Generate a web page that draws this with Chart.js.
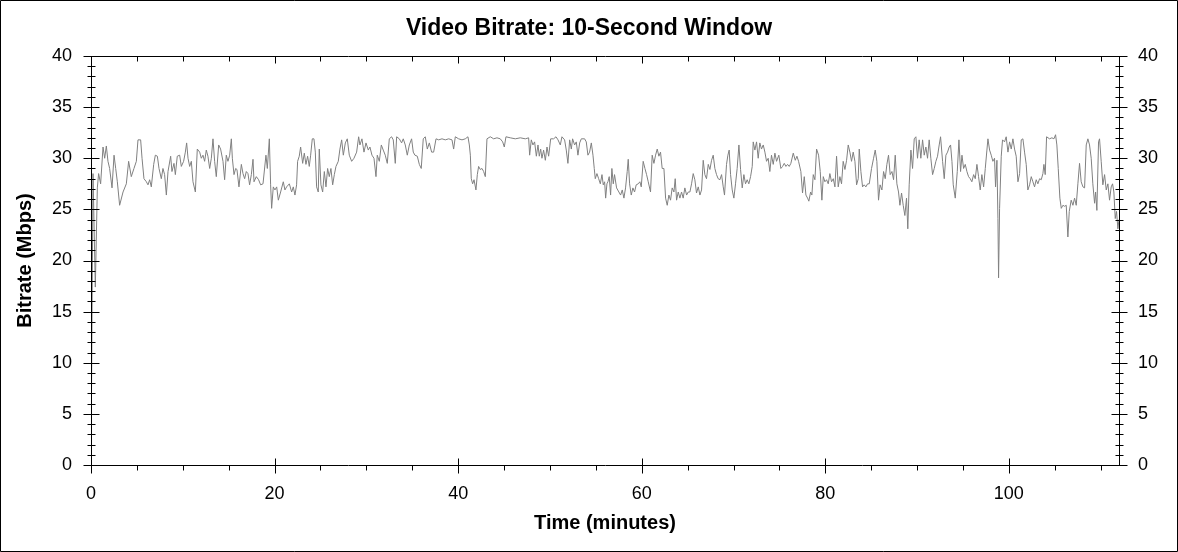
<!DOCTYPE html>
<html>
<head>
<meta charset="utf-8">
<title>Video Bitrate</title>
<script src="https://cdn.jsdelivr.net/npm/chart.js@4.4.1/dist/chart.umd.min.js"></script>
<style>
  body { margin: 0; background: #fff; }
  canvas { display: block; }
</style>
</head>
<body>
<canvas id="myChart" width="1178" height="552"></canvas>
<script>
// time in minutes, bitrate in Mbps
var minutes = [
  0, 0.22, 0.47, 0.69, 0.83, 1.05, 1.31, 1.49, 1.67, 1.85, 2.03, 2.29, 2.51, 2.69, 2.87, 3.12, 3.49, 3.85, 4.10, 4.39,
  4.68, 4.94, 5.12, 5.41, 5.56, 5.77, 6.03, 6.21, 6.39, 6.57, 6.83, 7.01, 7.23, 7.41, 7.66, 7.84, 8.02, 8.21, 8.39, 8.68,
  8.82, 9.04, 9.19, 9.40, 9.66, 9.84, 10.09, 10.28, 10.42, 10.57, 10.75, 10.93, 11.11, 11.37, 11.58, 11.84, 12.02, 12.20, 12.38, 12.56,
  12.74, 12.93, 13.11, 13.29, 13.47, 13.65, 13.91, 14.12, 14.38, 14.56, 14.74, 14.92, 15.11, 15.29, 15.40, 15.58, 15.76, 15.90, 16.12, 16.38,
  16.56, 16.74, 16.92, 17.10, 17.28, 17.47, 17.65, 17.76, 18.01, 18.26, 18.48, 18.74, 19.06, 19.21, 19.43, 19.57, 19.68, 19.86, 20.04, 20.23,
  20.41, 20.66, 20.95, 21.13, 21.31, 21.61, 21.86, 22.04, 22.22, 22.40, 22.51, 22.69, 22.84, 23.06, 23.24, 23.42, 23.60, 23.78, 23.93, 24.11,
  24.29, 24.44, 24.58, 24.76, 24.87, 25.05, 25.24, 25.42, 25.60, 25.78, 25.96, 26.14, 26.33, 26.51, 26.69, 26.94, 27.12, 27.31, 27.49, 27.71,
  27.92, 28.14, 28.40, 28.65, 28.94, 29.16, 29.30, 29.52, 29.74, 29.96, 30.21, 30.39, 30.61, 30.83, 31.05, 31.19, 31.41, 31.63, 31.84, 32.06,
  32.28, 32.50, 32.75, 32.93, 33.15, 33.30, 33.59, 33.84, 34.02, 34.24, 34.46, 34.68, 34.93, 35.11, 35.29, 35.55, 35.77, 35.98, 36.20, 36.42,
  36.64, 36.86, 37.11, 37.33, 37.59, 37.88, 38.24, 38.60, 38.97, 39.33, 39.51, 39.69, 40.05, 40.42, 40.78, 41.07, 41.22, 41.33, 41.43, 41.58,
  41.73, 41.94, 42.09, 42.23, 42.41, 42.60, 42.78, 42.96, 43.14, 43.50, 43.87, 44.23, 44.59, 44.85, 45.03, 45.21, 45.68, 46.23, 46.77, 47.32,
  47.68, 47.79, 47.97, 48.15, 48.33, 48.52, 48.70, 48.84, 48.99, 49.13, 49.31, 49.50, 49.68, 49.86, 50.08, 50.40, 50.66, 50.88, 51.13, 51.31,
  51.60, 51.78, 51.96, 52.15, 52.33, 52.47, 52.69, 52.87, 53.05, 53.24, 53.42, 53.78, 53.96, 54.14, 54.32, 54.51, 54.69, 54.83, 54.94, 55.12,
  55.31, 55.49, 55.67, 55.81, 55.96, 56.07, 56.21, 56.32, 56.46, 56.61, 56.75, 56.90, 57.04, 57.26, 57.51, 57.70, 57.88, 58.06, 58.24, 58.42,
  58.53, 58.68, 58.86, 59.04, 59.22, 59.40, 59.62, 59.80, 59.95, 60.16, 60.35, 60.53, 60.71, 60.96, 61.14, 61.33, 61.51, 61.69, 61.87, 62.05,
  62.23, 62.42, 62.60, 62.78, 62.96, 63.14, 63.32, 63.51, 63.65, 63.80, 63.98, 64.16, 64.34, 64.52, 64.70, 64.89, 65.07, 65.25, 65.43, 65.61,
  65.79, 65.97, 66.16, 66.34, 66.52, 66.70, 66.88, 67.06, 67.25, 67.43, 67.61, 67.79, 67.97, 68.15, 68.33, 68.52, 68.70, 68.88, 69.02, 69.24,
  69.39, 69.53, 69.68, 69.86, 70.04, 70.22, 70.40, 70.59, 70.77, 70.95, 71.13, 71.31, 71.49, 71.67, 71.86, 72.04, 72.15, 72.33, 72.51, 72.69,
  72.87, 73.05, 73.24, 73.42, 73.60, 73.78, 73.96, 74.14, 74.33, 74.51, 74.69, 74.94, 75.16, 75.35, 75.53, 75.71, 75.89, 76.07, 76.25, 76.51,
  76.73, 76.91, 77.09, 77.34, 77.52, 77.71, 77.89, 78.07, 78.21, 78.40, 78.54, 78.69, 78.87, 79.05, 79.27, 79.45, 79.63, 79.78, 79.96, 80.14,
  80.32, 80.50, 80.68, 80.87, 81.05, 81.23, 81.41, 81.59, 81.77, 81.95, 82.14, 82.32, 82.50, 82.68, 82.86, 83.04, 83.23, 83.41, 83.59, 83.70,
  83.88, 84.06, 84.24, 84.42, 84.61, 84.79, 85.04, 85.26, 85.44, 85.62, 85.80, 85.97, 86.17, 86.35, 86.53, 86.71, 86.89, 87.07, 87.26, 87.44,
  87.62, 87.80, 87.98, 88.13, 88.31, 88.49, 88.67, 88.85, 88.99, 89.14, 89.33, 89.51, 89.69, 89.87, 90.05, 90.23, 90.41, 90.60, 90.78, 90.96,
  91.14, 91.32, 91.50, 91.69, 91.87, 92.05, 92.23, 92.41, 92.56, 92.78, 92.96, 93.14, 93.32, 93.50, 93.65, 93.80, 93.94, 94.16, 94.38, 94.56,
  94.74, 94.89, 95.07, 95.25, 95.43, 95.61, 95.79, 95.97, 96.16, 96.34, 96.52, 96.70, 96.88, 97.06, 97.25, 97.43, 97.61, 97.72, 97.90, 98.08,
  98.26, 98.44, 98.55, 98.70, 98.81, 98.88, 98.99, 99.17, 99.31, 99.53, 99.71, 99.90, 100.08, 100.26, 100.44, 100.62, 100.80, 100.99, 101.17, 101.35,
  101.53, 101.71, 101.89, 102.07, 102.26, 102.44, 102.62, 102.80, 102.98, 103.16, 103.35, 103.53, 103.71, 103.82, 103.96, 104.11, 104.43, 104.69, 104.91, 105.09,
  105.23, 105.38, 105.56, 105.71, 105.89, 106.07, 106.25, 106.43, 106.58, 106.79, 106.98, 107.16, 107.34, 107.52, 107.70, 107.88, 108.07, 108.25, 108.43, 108.61,
  108.79, 108.97, 109.15, 109.34, 109.45, 109.59, 109.77, 109.88, 110.06, 110.24, 110.43, 110.61, 110.79, 110.97, 111.15, 111.30, 111.44, 111.59, 111.73, 111.88,
  112.00
];
var bitrate = [
  0, 28.5, 17.4, 27.1, 28.5, 27.5, 31.1, 30.0, 31.2, 29.7, 29.0, 27.1, 30.3, 29.0, 27.7, 25.4, 26.7, 27.5, 29.7, 28.2,
  29.0, 29.7, 31.8, 31.8, 30.0, 28.0, 27.7, 27.4, 27.9, 27.2, 29.4, 30.3, 30.2, 29.0, 28.0, 29.0, 28.4, 26.4, 28.7, 30.2,
  28.7, 29.5, 28.4, 30.2, 30.3, 29.2, 29.7, 30.6, 31.5, 30.0, 29.2, 29.7, 27.7, 26.7, 30.9, 30.6, 30.0, 30.3, 29.7, 30.8,
  30.2, 29.0, 30.0, 31.9, 29.7, 28.2, 31.3, 30.9, 29.7, 27.9, 30.3, 29.7, 30.3, 31.9, 30.0, 28.4, 29.0, 28.9, 27.2, 29.4,
  28.5, 28.0, 28.7, 28.5, 27.4, 28.4, 29.9, 27.7, 28.2, 27.9, 27.4, 27.5, 30.3, 29.0, 31.9, 27.4, 25.1, 27.2, 26.9, 27.2,
  25.9, 26.7, 27.7, 26.9, 27.2, 27.5, 26.7, 27.2, 26.4, 27.4, 29.7, 30.2, 31.1, 29.5, 30.5, 29.4, 30.2, 29.2, 30.3, 31.9,
  31.9, 30.6, 27.2, 26.7, 30.9, 27.4, 26.7, 28.7, 27.2, 29.0, 28.2, 29.0, 27.4, 28.4, 29.2, 29.7, 30.9, 31.8, 30.3, 31.5,
  31.9, 30.3, 29.7, 30.0, 30.6, 32.1, 31.3, 31.9, 30.6, 31.5, 30.8, 31.1, 30.3, 30.0, 28.2, 30.3, 29.7, 31.3, 30.8, 30.3,
  29.5, 31.9, 32.1, 31.8, 29.5, 32.1, 31.9, 31.5, 31.9, 31.3, 30.3, 31.3, 31.9, 30.6, 30.3, 30.2, 29.4, 29.0, 31.9, 32.1,
  30.9, 31.5, 30.6, 30.6, 31.9, 31.8, 31.9, 31.8, 31.9, 31.8, 30.9, 32.1, 31.9, 31.8, 31.9, 32.1, 31.3, 30.3, 28.0, 27.5,
  27.9, 26.9, 28.4, 29.2, 28.9, 29.0, 28.7, 28.2, 31.9, 32.1, 31.9, 32.0, 31.9, 31.6, 31.1, 32.1, 32.0, 31.9, 32.0, 31.9,
  32.0, 30.3, 31.8, 31.3, 31.6, 30.2, 31.3, 30.2, 30.9, 30.0, 30.8, 29.8, 31.1, 30.2, 31.9, 31.9, 32.1, 31.8, 31.3, 32.1,
  31.8, 30.8, 29.5, 31.8, 30.9, 31.9, 31.3, 31.6, 30.3, 31.5, 31.9, 31.9, 31.6, 30.3, 30.6, 31.5, 30.3, 29.0, 28.0, 28.5,
  28.0, 27.5, 28.4, 27.4, 27.7, 26.1, 27.5, 27.7, 28.2, 26.4, 29.0, 27.5, 28.4, 27.1, 26.7, 26.4, 26.9, 26.1, 27.1, 28.7,
  29.9, 27.5, 26.4, 27.1, 26.7, 27.4, 27.5, 27.7, 27.2, 29.7, 29.0, 28.4, 27.7, 26.7, 30.3, 29.5, 30.3, 30.9, 30.2, 30.6,
  29.0, 29.0, 26.1, 25.4, 26.4, 25.9, 27.1, 26.7, 28.0, 25.9, 26.7, 26.1, 26.7, 26.1, 27.1, 26.4, 26.7, 26.7, 27.5, 28.5,
  27.9, 26.6, 27.2, 26.4, 26.9, 29.8, 28.4, 28.0, 29.4, 28.9, 29.8, 30.3, 29.0, 28.4, 28.0, 27.9, 28.4, 27.2, 26.4, 29.4,
  30.3, 30.8, 28.4, 26.9, 26.1, 27.5, 29.0, 31.3, 28.9, 27.1, 28.4, 27.5, 27.9, 27.5, 28.2, 29.2, 31.6, 30.8, 31.6, 30.0,
  31.5, 30.9, 31.3, 30.6, 29.7, 30.0, 28.7, 30.3, 29.4, 30.5, 29.7, 30.3, 29.0, 29.2, 29.5, 29.2, 29.4, 29.2, 29.5, 30.5,
  29.8, 30.2, 29.7, 28.7, 26.6, 28.2, 26.4, 26.1, 25.8, 26.7, 26.4, 28.4, 27.9, 30.9, 30.3, 28.7, 25.9, 28.2, 27.7, 27.9,
  27.5, 28.5, 27.7, 28.0, 27.2, 30.2, 27.2, 28.2, 27.5, 29.7, 28.9, 29.8, 31.3, 30.6, 29.7, 30.6, 29.7, 27.4, 28.0, 30.9,
  28.7, 27.2, 27.4, 27.2, 27.5, 27.5, 29.0, 30.0, 30.8, 29.7, 25.9, 27.4, 26.9, 28.7, 28.0, 29.4, 30.3, 28.4, 28.7, 27.9,
  30.3, 27.5, 26.7, 25.4, 26.6, 25.4, 24.4, 26.1, 23.1, 27.4, 30.8, 29.0, 31.9, 32.1, 30.0, 31.8, 30.0, 31.8, 30.3, 31.1,
  30.0, 31.8, 30.0, 28.4, 29.0, 29.7, 30.2, 31.3, 32.1, 29.7, 28.0, 30.3, 30.6, 31.1, 31.3, 29.7, 27.4, 26.1, 28.7, 31.8,
  28.7, 30.3, 29.0, 29.4, 28.7, 28.2, 28.0, 27.7, 28.4, 28.0, 29.4, 28.2, 26.9, 28.4, 27.2, 29.0, 30.8, 31.9, 30.8, 30.3,
  29.7, 30.0, 27.2, 29.8, 24.1, 18.3, 25.1, 30.2, 31.8, 31.6, 32.1, 30.6, 31.6, 30.9, 31.9, 30.9, 30.2, 27.7, 28.5, 31.8,
  31.9, 30.6, 29.4, 26.9, 27.4, 28.2, 27.7, 27.2, 27.9, 27.5, 28.0, 27.9, 28.5, 29.4, 28.4, 32.1, 31.9, 32.0, 31.9, 32.3,
  31.3, 29.0, 26.1, 25.1, 25.4, 25.3, 25.4, 22.3, 24.8, 25.9, 25.4, 26.1, 25.4, 27.5, 29.5, 27.7, 27.2, 27.1, 31.3, 31.9,
  31.3, 30.0, 27.5, 25.6, 26.7, 24.9, 31.6, 31.9, 29.7, 27.4, 28.4, 26.9, 27.5, 25.9, 27.2, 27.5, 26.7, 24.1, 24.8, 23.1,
  24.0
];

var xTickValues = [0, 20, 40, 60, 80, 100];
var yTickValues = [0, 5, 10, 15, 20, 25, 30, 35, 40];
var xMax = 112;
var yMax = 40;

var FONT = "'Liberation Sans', Arial, sans-serif";

var points = [];
for (var i = 0; i < minutes.length; i++) {
  points.push({x: minutes[i], y: bitrate[i]});
}

function fixTicks(values) {
  return function(scale) {
    scale.ticks = values.map(function(v) { return {value: v}; });
  };
}

// frame, inner/outer tick marks and the outer border like the original image
var frameTicks = {
  id: 'frameTicks',
  afterDraw: function(chart) {
    var ctx = chart.ctx;
    var xs = chart.scales.x, ys = chart.scales.y;
    var L = Math.round(chart.chartArea.left) + 0.5;
    var R = Math.round(chart.chartArea.right) + 0.5;
    var T = Math.round(chart.chartArea.top) + 0.5;
    var B = Math.round(chart.chartArea.bottom) + 0.5;
    ctx.save();
    ctx.strokeStyle = '#000';
    ctx.lineWidth = 1;
    ctx.beginPath();
    ctx.rect(L, T, R - L, B - T);
    var m, px, py;
    for (m = 0; m <= xMax; m += 5) {
      px = Math.round(xs.getPixelForValue(m)) + 0.5;
      if (m % 20 == 0) {
        ctx.moveTo(px, B - 7); ctx.lineTo(px, B + 8);
        ctx.moveTo(px, T); ctx.lineTo(px, T + 7);
      } else {
        ctx.moveTo(px, B); ctx.lineTo(px, B + 5);
        ctx.moveTo(px, T); ctx.lineTo(px, T + 5);
      }
    }
    for (m = 0; m <= yMax; m += 1) {
      py = Math.round(ys.getPixelForValue(m)) + 0.5;
      if (m % 5 == 0) {
        ctx.moveTo(L - 8, py); ctx.lineTo(L + 8, py);
        ctx.moveTo(R - 8, py); ctx.lineTo(R + 8, py);
      } else {
        ctx.moveTo(L - 4, py); ctx.lineTo(L + 4, py);
        ctx.moveTo(R - 4, py); ctx.lineTo(R + 4, py);
      }
    }
    ctx.rect(0.5, 0.5, chart.width - 1, chart.height - 1);
    ctx.stroke();
    ctx.restore();
  }
};

var ctx = document.getElementById('myChart').getContext('2d');
var myChart = new Chart(ctx, {
  type: 'line',
  data: {
    datasets: [{
      data: points,
      borderColor: '#808080',
      borderWidth: 1,
      pointRadius: 0,
      tension: 0,
      fill: false
    }]
  },
  options: {
    responsive: false,
    animation: false,
    parsing: false,
    layout: { padding: 0 },
    plugins: {
      legend: { display: false },
      tooltip: { enabled: false },
      title: {
        display: true,
        text: 'Video Bitrate: 10-Second Window',
        color: '#000',
        font: { family: FONT, size: 23, weight: 'bold' },
        padding: { top: 15, bottom: 13.4 }
      }
    },
    scales: {
      x: {
        type: 'linear',
        min: 0,
        max: xMax,
        afterBuildTicks: fixTicks(xTickValues),
        afterFit: function(scale) { scale.height = 87; },
        grid: { display: false, drawTicks: false },
        border: { display: false },
        ticks: { color: '#000', padding: 18, maxRotation: 0, font: { family: FONT, size: 18 } },
        title: {
          display: true,
          text: 'Time (minutes)',
          color: '#000',
          font: { family: FONT, size: 20, weight: 'bold' },
          padding: { top: 0, bottom: 17 }
        }
      },
      y: {
        position: 'left',
        min: 0,
        max: yMax,
        afterBuildTicks: fixTicks(yTickValues),
        afterFit: function(scale) { scale.width = 91; },
        grid: { display: false, drawTicks: false },
        border: { display: false },
        ticks: { color: '#000', padding: 19, font: { family: FONT, size: 18 } },
        title: {
          display: true,
          text: 'Bitrate (Mbps)',
          color: '#000',
          font: { family: FONT, size: 20, weight: 'bold' },
          padding: { top: 13, bottom: 0 }
        }
      },
      y2: {
        position: 'right',
        min: 0,
        max: yMax,
        afterBuildTicks: fixTicks(yTickValues),
        afterFit: function(scale) { scale.width = 59; },
        grid: { display: false, drawTicks: false },
        border: { display: false },
        ticks: { color: '#000', padding: 19, font: { family: FONT, size: 18 } }
      }
    }
  },
  plugins: [frameTicks]
});
</script>
</body>
</html>
